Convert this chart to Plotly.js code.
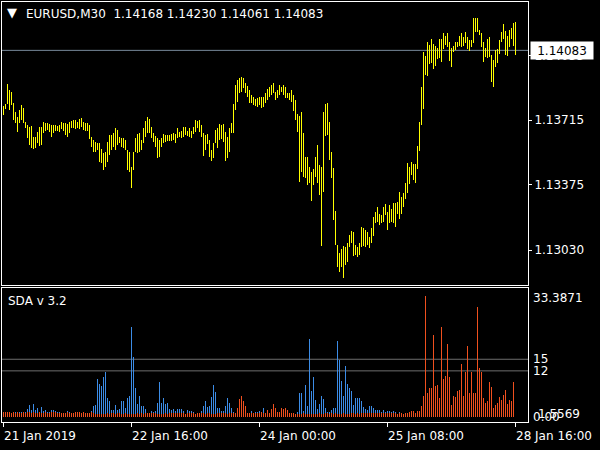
<!DOCTYPE html>
<html><head><meta charset="utf-8">
<script src="https://cdn.plot.ly/plotly-3.0.1.min.js"></script>
<style>html,body{margin:0;padding:0;background:#000;}#chart{width:600px;height:450px;}</style>
</head><body><div id="chart"></div>
<script>
// ---- data ----
const symbolTitle = "EURUSD,M30";
const quote = ["1.14168", "1.14230", "1.14061", "1.14083"]; // O H L C of last bar
const indicatorName = "SDA v 3.2";

const high = [
1.13789,1.13800,1.13905,1.13874,1.13863,1.13805,1.13757,1.13731,1.13768,1.13795,
1.13779,1.13705,1.13690,1.13679,1.13684,1.13626,1.13626,1.13652,1.13679,1.13679,
1.13705,1.13700,1.13700,1.13695,1.13690,1.13690,1.13690,1.13684,1.13690,1.13705,
1.13700,1.13700,1.13695,1.13705,1.13711,1.13716,1.13716,1.13705,1.13721,1.13726,
1.13705,1.13700,1.13700,1.13690,1.13626,1.13610,1.13599,1.13594,1.13594,1.13563,
1.13542,1.13547,1.13599,1.13637,1.13637,1.13647,1.13674,1.13663,1.13626,1.13621,
1.13621,1.13610,1.13558,1.13547,1.13468,1.13547,1.13621,1.13642,1.13647,1.13610,
1.13674,1.13711,1.13731,1.13721,1.13679,1.13647,1.13631,1.13621,1.13610,1.13621,
1.13642,1.13637,1.13637,1.13637,1.13642,1.13647,1.13642,1.13674,1.13652,1.13658,
1.13679,1.13679,1.13658,1.13674,1.13658,1.13679,1.13716,1.13711,1.13716,1.13690,
1.13647,1.13637,1.13642,1.13610,1.13558,1.13594,1.13663,1.13674,1.13695,1.13690,
1.13695,1.13652,1.13626,1.13674,1.13700,1.13800,1.13900,1.13926,1.13937,1.13942,
1.13937,1.13910,1.13895,1.13874,1.13848,1.13837,1.13826,1.13832,1.13837,1.13837,
1.13837,1.13858,1.13879,1.13890,1.13900,1.13910,1.13863,1.13874,1.13900,1.13890,
1.13900,1.13890,1.13858,1.13858,1.13874,1.13848,1.13821,1.13747,1.13737,1.13757,
1.13647,1.13521,1.13521,1.13468,1.13441,1.13457,1.13521,1.13584,1.13479,1.13468,
1.13757,1.13800,1.13805,1.13705,1.13547,1.13463,1.13236,1.13057,1.13015,1.13036,
1.13051,1.13046,1.13067,1.13110,1.13131,1.13125,1.13057,1.13046,1.13067,1.13152,
1.13147,1.13136,1.13125,1.13099,1.13147,1.13204,1.13230,1.13257,1.13220,1.13215,
1.13257,1.13273,1.13230,1.13268,1.13246,1.13278,1.13278,1.13283,1.13336,1.13310,
1.13331,1.13383,1.13489,1.13468,1.13494,1.13484,1.13484,1.13578,1.13705,1.13890,
1.14074,1.14053,1.14127,1.14111,1.14142,1.14116,1.14106,1.14095,1.14142,1.14142,
1.14174,1.14158,1.14174,1.14127,1.14095,1.14106,1.14127,1.14127,1.14158,1.14174,
1.14153,1.14179,1.14153,1.14137,1.14137,1.14253,1.14253,1.14253,1.14190,1.14174,
1.14127,1.14095,1.14142,1.14153,1.14058,1.14032,1.14085,1.14090,1.14137,1.14179,
1.14221,1.14185,1.14158,1.14190,1.14200,1.14227,1.14230
];
const low = [
1.13742,1.13774,1.13800,1.13768,1.13795,1.13716,1.13700,1.13652,1.13700,1.13716,
1.13700,1.13674,1.13621,1.13584,1.13568,1.13563,1.13568,1.13594,1.13578,1.13584,
1.13647,1.13658,1.13663,1.13652,1.13626,1.13647,1.13658,1.13658,1.13652,1.13668,
1.13658,1.13637,1.13626,1.13647,1.13674,1.13674,1.13668,1.13674,1.13668,1.13679,
1.13663,1.13658,1.13658,1.13616,1.13573,1.13547,1.13547,1.13558,1.13494,1.13489,
1.13452,1.13468,1.13494,1.13532,1.13558,1.13573,1.13558,1.13584,1.13594,1.13573,
1.13568,1.13558,1.13452,1.13441,1.13357,1.13452,1.13547,1.13542,1.13547,1.13558,
1.13594,1.13626,1.13647,1.13647,1.13621,1.13599,1.13573,1.13516,1.13521,1.13573,
1.13594,1.13599,1.13605,1.13605,1.13605,1.13610,1.13594,1.13621,1.13626,1.13621,
1.13626,1.13637,1.13631,1.13626,1.13621,1.13642,1.13652,1.13674,1.13652,1.13626,
1.13526,1.13558,1.13589,1.13521,1.13500,1.13516,1.13594,1.13568,1.13610,1.13616,
1.13599,1.13500,1.13516,1.13547,1.13647,1.13647,1.13768,1.13810,1.13858,1.13863,
1.13884,1.13858,1.13837,1.13805,1.13805,1.13795,1.13789,1.13784,1.13795,1.13779,
1.13784,1.13805,1.13821,1.13837,1.13848,1.13858,1.13821,1.13832,1.13848,1.13863,
1.13848,1.13832,1.13832,1.13821,1.13810,1.13763,1.13716,1.13652,1.13388,1.13441,
1.13415,1.13410,1.13373,1.13383,1.13289,1.13373,1.13415,1.13383,1.13320,1.13051,
1.13336,1.13631,1.13637,1.13505,1.13410,1.13189,1.13057,1.12941,1.12914,1.12941,
1.12883,1.12952,1.12967,1.13046,1.13067,1.12999,1.13005,1.12994,1.13005,1.13046,
1.13051,1.13046,1.13057,1.13041,1.13067,1.13104,1.13173,1.13178,1.13162,1.13173,
1.13178,1.13215,1.13136,1.13173,1.13178,1.13173,1.13152,1.13220,1.13194,1.13220,
1.13257,1.13299,1.13331,1.13378,1.13426,1.13399,1.13383,1.13457,1.13552,1.13690,
1.13774,1.13953,1.13947,1.14011,1.14016,1.13984,1.14000,1.14037,1.14042,1.14021,
1.14090,1.14111,1.14100,1.14027,1.13995,1.14074,1.14085,1.14100,1.14106,1.14100,
1.14106,1.14121,1.14090,1.14079,1.14100,1.14121,1.14179,1.14179,1.14164,1.14100,
1.14021,1.14048,1.14042,1.14048,1.13916,1.13890,1.13995,1.14016,1.14063,1.14127,
1.14142,1.14058,1.14053,1.14100,1.14142,1.14106,1.14061
];
// SDA histogram buffers (blue = buy pressure, orange = sell pressure)
const sdaBlue = [
1.0,1.1,1.2,1.3,1.0,1.1,1.5,1.3,1.5,1.4,
1.2,1.5,2.2,3.2,2.0,3.4,2.0,2.3,1.5,2.7,
1.7,1.8,1.5,1.3,1.9,1.8,1.6,1.5,1.3,1.1,
1.1,1.2,1.7,1.4,1.2,1.1,1.1,1.0,1.0,1.0,
1.0,1.0,1.0,1.1,1.6,2.8,3.2,10.0,8.6,8.1,
10.5,11.8,4.9,4.1,1.9,1.9,3.2,1.9,2.1,4.3,
4.1,2.3,4.9,5.5,23.4,15.7,7.7,3.4,5.5,2.8,
3.0,2.1,0.9,0.9,1.6,1.5,1.6,3.8,9.0,3.6,
4.9,3.4,3.6,2.2,1.9,2.2,1.6,2.1,2.2,2.1,
1.6,0.8,1.9,1.6,1.6,1.3,0.8,0.8,1.2,1.6,
2.8,4.3,2.6,2.8,5.2,8.4,6.6,2.5,2.5,1.6,
1.7,2.8,5.1,3.6,2.3,1.3,0.8,0.8,0.8,0.8,
0.8,0.8,0.8,0.8,1.6,0.8,1.5,1.5,1.6,1.2,
2.3,0.7,0.7,0.7,0.7,0.7,0.7,0.7,0.7,0.7,
0.7,0.7,0.7,0.7,0.7,0.7,0.7,1.5,6.4,6.4,
1.7,8.4,2.9,20.3,6.8,10.3,4.5,2.1,3.4,5.6,
4.7,2.5,1.5,1.5,1.9,2.3,2.3,19.6,14.7,9.5,
5.5,13.3,8.6,7.5,6.9,3.2,4.9,5.1,4.9,4.3,
2.6,2.1,1.9,2.9,2.9,2.5,1.9,1.9,1.9,1.3,
1.9,1.3,1.7,1.6,1.5,1.7,1.4,0.8,1.4,0.6,
0.6,0.6,0.6,0.6,0.6,0.6,0.6,0.6,0.6,0.6,
0.6,0.6,0.6,0.6,0.6,0.6,0.6,0.6,0.6,0.6,
0.6,0.6,0.6,0.6,0.6,0.6,0.6,0.6,0.6,0.6,
0.6,0.6,0.6,0.6,0.6,0.6,0.6,0.6,0.6,0.6,
0.6,0.6,0.6,0.6,0.6,0.6,0.6,0.6,0.6,0.6,
0.6,0.6,0.6,0.6,0.6,0.6,null
];
const sdaOrange = [
1.3,1.4,1.4,1.5,1.2,1.3,1.2,1.4,1.1,1.2,
1.3,1.2,1.4,1.3,1.2,1.3,1.1,1.2,1.3,1.2,
1.1,1.3,1.2,1.2,1.3,1.4,1.3,1.2,1.1,1.0,
1.1,1.2,1.3,1.2,1.1,1.2,1.3,1.4,1.3,1.2,
1.3,1.2,1.1,1.2,1.3,1.0,0.9,0.9,0.9,0.8,
0.9,0.9,1.0,0.9,1.0,1.1,0.9,1.0,1.0,0.9,
0.9,1.0,0.9,0.9,0.8,0.8,0.9,1.0,0.9,1.0,
0.9,1.0,1.0,1.1,1.0,1.1,1.0,0.9,0.8,0.9,
0.9,1.0,0.9,1.0,1.1,1.0,1.0,1.1,1.0,1.0,
1.1,0.9,1.0,1.1,1.1,1.0,0.9,1.0,1.0,1.1,
1.0,0.9,1.0,1.0,0.9,0.8,0.9,1.0,1.0,1.1,
1.1,1.0,0.9,1.0,1.0,1.1,1.2,2.5,4.7,5.6,
4.1,2.8,1.2,1.2,1.0,1.1,1.0,1.0,1.0,1.5,
1.0,1.0,1.9,1.2,2.1,3.4,2.5,1.5,1.5,2.5,
2.1,2.5,1.9,1.2,1.0,1.0,0.9,0.9,0.8,0.9,
1.0,0.9,0.9,0.8,0.9,0.9,0.8,0.9,1.0,0.9,
0.9,1.0,1.0,0.9,1.0,0.9,1.0,0.8,0.9,0.9,
1.0,0.9,0.9,0.9,1.0,1.0,0.9,1.0,0.9,1.0,
1.0,1.0,1.1,1.0,1.0,1.1,1.0,1.1,1.0,1.1,
1.0,1.1,1.0,1.0,1.1,1.0,1.0,0.9,1.0,1.0,
0.9,1.0,1.2,1.5,1.6,1.6,1.0,1.6,1.6,2.8,
5.5,31.4,6.2,7.7,7.7,21.3,8.1,8.4,5.1,23.4,
9.9,10.7,19.0,10.3,3.2,5.5,5.2,6.9,7.1,13.8,
5.5,11.6,18.4,6.2,11.8,6.2,6.2,28.4,12.7,11.8,
5.1,3.6,4.2,9.1,7.8,2.5,3.2,3.6,5.2,4.5,
5.8,7.1,3.4,4.5,4.1,9.0,null
];
const timeTickIdx = [0, 64, 128, 192, 256];
const timeTickText = ["21 Jan 2019", "22 Jan 16:00", "24 Jan 00:00", "25 Jan 08:00", "28 Jan 16:00"];
const priceTickVals = [1.13030, 1.13375, 1.13715, 1.14055];
const priceTickText = ["1.13030", "1.13375", "1.13715", "1.14055"];
const lastPrice = 1.14083;
const sdaLevels = [15, 12];
const sdaMaxLabel = "33.3871";
const sdaCurLabel = "1.5569";
const sdaMinLabel = "0.00";

// ---- build ----
const W = 600, H = 450;
const px = v => v / W, py = v => 1 - v / H;
const idx = high.map((_, i) => i);
const span = high.map((h, i) => h - low[i]);
const FONT = "DejaVu Sans";

const traces = [
  {type: 'bar', x: idx, y: span, base: low, width: 0.5, xaxis: 'x', yaxis: 'y',
   marker: {color: '#ffff00', line: {width: 0}}, hoverinfo: 'skip'},
  {type: 'bar', x: idx, y: sdaBlue, width: 0.5, xaxis: 'x2', yaxis: 'y2',
   marker: {color: '#3c8ce6', line: {width: 0}}, hoverinfo: 'skip'},
  {type: 'bar', x: idx, y: sdaOrange, width: 0.5, xaxis: 'x2', yaxis: 'y2',
   marker: {color: '#f0501e', line: {width: 0}}, hoverinfo: 'skip'}
];

const xDom = [px(2), px(528)];
const xRange = [-0.75, 262.25];
const axCommon = {showgrid: false, zeroline: false, showline: true, mirror: true,
  linecolor: '#ffffff', linewidth: 1, fixedrange: true};

const ann = [];
ann.push({xref: 'paper', yref: 'paper', x: px(5), y: py(13), xanchor: 'left', yanchor: 'middle',
  text: '\u25BC', showarrow: false, font: {family: FONT, size: 13, color: '#ffffff'}});
ann.push({xref: 'paper', yref: 'paper', x: px(24), y: py(14), xanchor: 'left', yanchor: 'middle',
  text: symbolTitle + '\u00a0\u00a0' + quote.join(' '), showarrow: false,
  font: {family: FONT, size: 12, color: '#ffffff'}});
ann.push({xref: 'paper', yref: 'paper', x: px(6), y: py(300.5), xanchor: 'left', yanchor: 'middle',
  text: indicatorName, showarrow: false, font: {family: FONT, size: 12, color: '#ffffff'}});
timeTickIdx.forEach((t, k) => ann.push({xref: 'x2', yref: 'paper', x: t, y: py(436),
  xanchor: 'left', yanchor: 'middle', xshift: -2, text: timeTickText[k], showarrow: false,
  font: {family: FONT, size: 12, color: '#ffffff'}}));
ann.push({xref: 'paper', yref: 'paper', x: px(531), y: py(298), xanchor: 'left', yanchor: 'middle',
  text: sdaMaxLabel, showarrow: false, font: {family: FONT, size: 12, color: '#ffffff'}});
sdaLevels.forEach(l => ann.push({xref: 'paper', yref: 'y2', x: px(531), y: l, xanchor: 'left', yanchor: 'middle',
  text: String(l), showarrow: false, font: {family: FONT, size: 12, color: '#ffffff'}}));
ann.push({xref: 'paper', yref: 'paper', x: px(536), y: py(414), xanchor: 'left', yanchor: 'middle',
  text: sdaCurLabel, showarrow: false, font: {family: FONT, size: 12, color: '#ffffff'}});
ann.push({xref: 'paper', yref: 'y2', x: px(531), y: 0, xanchor: 'left', yanchor: 'middle',
  text: sdaMinLabel, showarrow: false, font: {family: FONT, size: 12, color: '#ffffff'}});
ann.push({xref: 'paper', yref: 'y', x: px(530), y: lastPrice, xanchor: 'left', yanchor: 'middle',
  text: lastPrice.toFixed(5), showarrow: false, bgcolor: '#ffffff', borderpad: 2, width: 58, height: 13,
  font: {family: FONT, size: 12, color: '#000000'}});

const shapes = [
  {type: 'line', xref: 'paper', yref: 'y', x0: px(2), x1: px(528), y0: lastPrice, y1: lastPrice,
   line: {color: '#778899', width: 1}, layer: 'below'}
];
sdaLevels.forEach(l => shapes.push({type: 'line', xref: 'paper', yref: 'y2', x0: px(2), x1: px(528),
  y0: l, y1: l, line: {color: '#6e6e6e', width: 1}, layer: 'below'}));

const layout = {
  width: W, height: H, margin: {l: 0, r: 0, t: 0, b: 0},
  paper_bgcolor: '#000000', plot_bgcolor: 'rgba(0,0,0,0)',
  showlegend: false, barmode: 'overlay', bargap: 0,
  font: {family: FONT, size: 12, color: '#ffffff'},
  xaxis: Object.assign({}, axCommon, {domain: xDom, range: xRange, anchor: 'y',
    showticklabels: false, ticks: ''}),
  xaxis2: Object.assign({}, axCommon, {domain: xDom, range: xRange, anchor: 'y2',
    showticklabels: false, ticks: 'outside', ticklen: 4, tickcolor: '#ffffff', tickwidth: 1,
    tickmode: 'array', tickvals: timeTickIdx}),
  yaxis: Object.assign({}, axCommon, {domain: [py(285), py(2)], range: [1.12846, 1.14338],
    anchor: 'x', side: 'right', ticks: 'outside', ticklen: 3, tickcolor: '#ffffff',
    tickmode: 'array', tickvals: priceTickVals, ticktext: priceTickText,
    tickfont: {family: FONT, size: 12, color: '#ffffff'}}),
  yaxis2: Object.assign({}, axCommon, {domain: [py(422), py(288)], range: [-1.21, 33.41],
    anchor: 'x2', side: 'right', ticks: '', showticklabels: false}),
  shapes: shapes, annotations: ann
};

Plotly.newPlot('chart', traces, layout, {staticPlot: true, displayModeBar: false});
</script></body></html>
